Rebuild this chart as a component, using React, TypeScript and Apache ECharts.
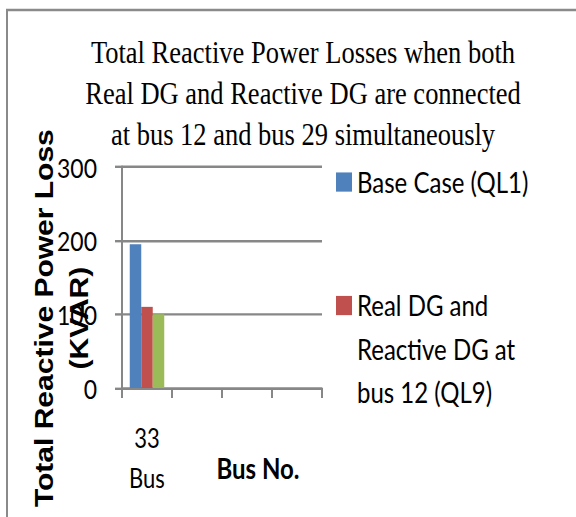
import React, { useEffect, useRef } from 'react';
import * as echarts from 'echarts';

// ---- data ----
const categories = ['33\nBus', '', '', ''];
const baseCaseQL1 = [195, null, null, null];
const busTwelveQL9 = [110, null, null, null];
const busTwelveTwentyNine = [100, null, null, null];
const seriesNames = [
  'Base Case (QL1)',
  'Real DG and Reactive DG at bus 12 (QL9)',
  'Real DG and Reactive DG at bus 12 and bus 29',
];
// two leading blank lines keep the marker level with the first text line
const legendLabels = ['Base Case (QL1)', '\n\nReal DG and\nReactive DG at\nbus 12 (QL9)'];
const titleLines = [
  'Total Reactive Power Losses when both',
  'Real DG and Reactive DG are connected',
  'at bus 12 and bus 29 simultaneously',
];
const yMin = 0;
const yMax = 300;
const yStep = 100;
const yName = 'Total Reactive Power Loss\n(KVAR)';
const xName = 'Bus No.';

const S = 1.2; // vertical stretch of the reference picture
const GRAY = '#878787';
const COLORS = ['#4F81BD', '#C0504D', '#9BBB59'];

export default function App() {
  const ref = useRef<HTMLDivElement>(null);
  useEffect(() => {
    if (!ref.current) return;
    const chart = echarts.init(ref.current, null, { renderer: 'svg' });
    const legendLine = 36;
    const legendText = {
      fontFamily: 'Lato, "Open Sans", sans-serif',
      fontSize: 24,
      lineHeight: legendLine,
      color: '#000',
    };
    chart.setOption({
      animation: false,
      backgroundColor: '#fff',
      title: {
        text: titleLines.join('\n'),
        left: 303,
        top: 26.3,
        textAlign: 'center',
        padding: 0,
        textStyle: {
          fontFamily: '"Liberation Serif", "Times New Roman", serif',
          fontWeight: 'normal',
          fontSize: 26.5,
          lineHeight: 34.2,
          color: '#000',
        },
      },
      graphic: [
        {
          type: 'rect',
          z: -10,
          silent: true,
          shape: { x: 7, y: 10 / S, width: 900, height: 900 },
          style: { fill: 'none', stroke: '#8a8a8a', lineWidth: 2 },
        },
      ],
      legend: [
        {
          data: [seriesNames[0]],
          orient: 'vertical',
          left: 336,
          top: 151.7 - legendLine / 2,
          padding: 0,
          itemWidth: 16,
          itemHeight: 16,
          icon: 'rect',
          formatter: () => legendLabels[0],
          textStyle: legendText,
        },
        {
          data: [seriesNames[1]],
          orient: 'vertical',
          left: 336,
          top: 254.6 - (5 * legendLine) / 2,
          padding: 0,
          itemWidth: 16,
          itemHeight: 16,
          icon: 'rect',
          formatter: () => legendLabels[1],
          textStyle: legendText,
        },
      ],
      grid: {
        left: 122,
        top: 166.7 / S,
        width: 200,
        height: (388 - 166.7) / S,
        containLabel: false,
        outerBoundsMode: 'none',
      },
      xAxis: {
        type: 'category',
        data: categories,
        boundaryGap: true,
        axisLine: { show: true, lineStyle: { color: GRAY, width: 2 } },
        axisTick: { show: true, length: 10 / S, lineStyle: { color: GRAY, width: 2 } },
        axisLabel: {
          interval: 0,
          margin: 24,
          fontFamily: 'Lato, "Open Sans", sans-serif',
          fontSize: 22,
          lineHeight: 34,
          color: '#000',
        },
        name: xName,
        nameLocation: 'middle',
        nameGap: 52.7,
        nameMoveOverlap: false,
        nameTextStyle: {
          fontFamily: 'Lato, "Open Sans", sans-serif',
          fontWeight: 'bold',
          fontSize: 24,
          lineHeight: 28,
          color: '#000',
          padding: [0, 0, 0, 72],
        },
      },
      yAxis: {
        type: 'value',
        min: yMin,
        max: yMax,
        interval: yStep,
        axisLine: { show: true, lineStyle: { color: GRAY, width: 2 } },
        axisTick: { show: true, length: 7, lineStyle: { color: GRAY, width: 2 } },
        splitLine: { show: true, lineStyle: { color: GRAY, width: 2 } },
        axisLabel: {
          margin: 25,
          fontFamily: 'Lato, "Open Sans", sans-serif',
          fontSize: 23,
          color: '#000',
        },
        name: yName,
        nameLocation: 'middle',
        nameGap: 25,
        nameMoveOverlap: false,
        nameTextStyle: {
          fontFamily: '"Liberation Sans", Arial, sans-serif',
          fontWeight: 'bold',
          fontSize: 25,
          lineHeight: 35,
          color: '#000',
          padding: [0, 68, 0, 0],
        },
      },
      series: [
        { name: seriesNames[0], type: 'bar', data: baseCaseQL1, barWidth: '23%', barGap: '0%', itemStyle: { color: COLORS[0] } },
        { name: seriesNames[1], type: 'bar', data: busTwelveQL9, barWidth: '23%', barGap: '0%', itemStyle: { color: COLORS[1] } },
        { name: seriesNames[2], type: 'bar', data: busTwelveTwentyNine, barWidth: '23%', barGap: '0%', itemStyle: { color: COLORS[2] } },
      ],
    });
    return () => chart.dispose();
  }, []);

  return (
    <div
      style={{
        position: 'absolute',
        left: 0,
        top: 0,
        width: 576,
        height: 517,
        overflow: 'hidden',
        background: '#fff',
      }}
    >
      <div
        ref={ref}
        style={{
          width: 576,
          height: 600,
          transform: `scaleY(${S})`,
          transformOrigin: '0 0',
        }}
      />
    </div>
  );
}
